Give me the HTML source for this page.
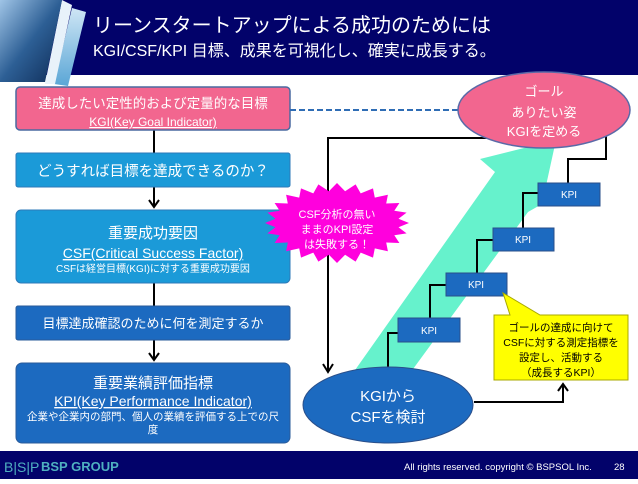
<!DOCTYPE html>
<html><head><meta charset="utf-8"><style>
body{margin:0;width:638px;height:479px;overflow:hidden;background:#fff}
svg text{font-family:"Liberation Sans","Noto Sans CJK JP",sans-serif}
</style></head><body>
<svg width="638" height="479" viewBox="0 0 638 479" xmlns="http://www.w3.org/2000/svg">
<defs>
<linearGradient id="bld" x1="0" y1="0" x2="1" y2="1"><stop offset="0" stop-color="#9fc4e6"/><stop offset="0.5" stop-color="#2d5f95"/><stop offset="1" stop-color="#0d2a55"/></linearGradient>
<linearGradient id="bld2" x1="0" y1="0" x2="0" y2="1"><stop offset="0" stop-color="#cfe6f5"/><stop offset="1" stop-color="#5aa6d6"/></linearGradient>
</defs>
<!-- header -->
<rect x="0" y="0" width="638" height="75" fill="#02026a"/>
<polygon points="72,8 86,12 68,86 54,84" fill="url(#bld2)"/>
<polygon points="62,0 72,5 55,84 45,84" fill="#e8f2fa"/>
<polygon points="0,0 62,0 45,82 0,82" fill="url(#bld)"/>
<text x="93" y="32" font-size="20" fill="#fff">リーンスタートアップによる成功のためには</text>
<text x="93" y="56" font-size="16" fill="#fff">KGI/CSF/KPI  目標、成果を可視化し、確実に成長する。</text>
<!-- left column -->
<line x1="154" y1="130" x2="154" y2="153" stroke="#000" stroke-width="2"/>
<line x1="154" y1="187" x2="154" y2="206" stroke="#000" stroke-width="2"/>
<polyline points="149,200 154,207 159,200" fill="none" stroke="#000" stroke-width="2"/>
<line x1="154" y1="283" x2="154" y2="306" stroke="#000" stroke-width="2"/>
<line x1="154" y1="340" x2="154" y2="359" stroke="#000" stroke-width="2"/>
<polyline points="149,353 154,360 159,353" fill="none" stroke="#000" stroke-width="2"/>
<rect x="16" y="87" width="274" height="43" rx="4" fill="#f2668f" stroke="#4a6aa0" stroke-width="1.5"/>
<text x="153" y="108" font-size="13.5" fill="#fff" text-anchor="middle">達成したい定性的および定量的な目標</text>
<text x="153" y="126" font-size="12" fill="#fff" text-anchor="middle" text-decoration="underline">KGI(Key Goal Indicator)</text>
<rect x="16" y="153" width="274" height="34" rx="2" fill="#1b9ad8" stroke="#2d79b8"/>
<text x="153" y="176" font-size="14.5" fill="#fff" text-anchor="middle">どうすれば目標を達成できるのか？</text>
<rect x="16" y="210" width="274" height="73" rx="5" fill="#1b9ad8" stroke="#2d79b8"/>
<text x="153" y="238" font-size="15" fill="#fff" text-anchor="middle">重要成功要因</text>
<text x="153" y="258" font-size="14" fill="#fff" text-anchor="middle" text-decoration="underline">CSF(Critical Success Factor)</text>
<text x="153" y="272" font-size="10" fill="#fff" text-anchor="middle">CSFは経営目標(KGI)に対する重要成功要因</text>
<rect x="16" y="306" width="274" height="34" rx="2" fill="#1c6ac0" stroke="#2a5b9a"/>
<text x="153" y="328" font-size="13" fill="#fff" text-anchor="middle">目標達成確認のために何を測定するか</text>
<rect x="16" y="363" width="274" height="80" rx="6" fill="#1c6ac0" stroke="#2a5b9a"/>
<text x="153" y="388" font-size="15" fill="#fff" text-anchor="middle">重要業績評価指標</text>
<text x="153" y="406" font-size="14" fill="#fff" text-anchor="middle" text-decoration="underline">KPI(Key Performance Indicator)</text>
<text x="153" y="420" font-size="10.5" fill="#fff" text-anchor="middle">企業や企業内の部門、個人の業績を評価する上での尺</text>
<text x="153" y="433" font-size="10.5" fill="#fff" text-anchor="middle">度</text>
<!-- dashed -->
<line x1="290" y1="110" x2="460" y2="110" stroke="#2f6db5" stroke-width="2" stroke-dasharray="6,3"/>
<!-- big arrow -->
<polygon points="348,380 495,172 480,159 556,140 542,204 528,212 405,380" fill="#66f2cc"/>
<!-- black loop -->
<polyline points="490,138 328,138 328,370" fill="none" stroke="#000" stroke-width="2"/>
<polyline points="323,364 328,372 333,364" fill="none" stroke="#000" stroke-width="2"/>
<polyline points="606,135 606,159 568,159 568,183" fill="none" stroke="#000" stroke-width="2"/>
<polyline points="538,193 523,193 523,228" fill="none" stroke="#000" stroke-width="2"/>
<polyline points="493,240 477,240 477,273" fill="none" stroke="#000" stroke-width="2"/>
<polyline points="446,285 430,285 430,318" fill="none" stroke="#000" stroke-width="2"/>
<polyline points="398,333 388,333 388,368" fill="none" stroke="#000" stroke-width="2"/>
<polyline points="474,402 563,402 563,385" fill="none" stroke="#000" stroke-width="2"/>
<polyline points="558,391 563,384 568,391" fill="none" stroke="#000" stroke-width="2"/>
<!-- goal ellipse -->
<ellipse cx="544" cy="110" rx="86" ry="38" fill="#f2668f" stroke="#5a6aa8" stroke-width="1.5"/>
<text x="544" y="96" font-size="13" fill="#fff" text-anchor="middle">ゴール</text>
<text x="544" y="117" font-size="13" fill="#fff" text-anchor="middle">ありたい姿</text>
<text x="544" y="136" font-size="13" fill="#fff" text-anchor="middle">KGIを定める</text>
<!-- KPI boxes -->
<g fill="#1c6ac0" stroke="#2a4f8a">
<rect x="538" y="183" width="62" height="23"/>
<rect x="493" y="228" width="61" height="23"/>
<rect x="446" y="273" width="61" height="23"/>
<rect x="398" y="318" width="62" height="24"/>
</g>
<g font-size="10" fill="#fff" text-anchor="middle">
<text x="569" y="198">KPI</text><text x="523" y="243">KPI</text><text x="476" y="288">KPI</text><text x="429" y="334">KPI</text>
</g>
<!-- starburst -->
<polygon fill="#ff00dd" points="409,223 398.5,227.2 406.6,233.4 394.3,235.3 399.4,243 386.2,242.5 387.9,251.3 374.8,248.4 373,257.6 360.7,252.6 355.6,261.6 345.1,254.7 337,263 328.9,254.7 318.4,261.6 313.3,252.6 301,257.6 299.2,248.4 286.1,251.3 287.8,242.5 274.6,243 279.7,235.3 267.4,233.4 275.5,227.2 265,223 275.5,218.8 267.4,212.6 279.7,210.7 274.6,203 287.8,203.5 286.1,194.7 299.2,197.6 301,188.4 313.3,193.4 318.4,184.4 328.9,191.3 337,183 345.1,191.3 355.6,184.4 360.7,193.4 373,188.4 374.8,197.6 387.9,194.7 386.2,203.5 399.4,203 394.3,210.7 406.6,212.6 398.5,218.8"/>
<text x="337" y="218" font-size="11" fill="#fff" text-anchor="middle">CSF分析の無い</text>
<text x="337" y="233" font-size="11" fill="#fff" text-anchor="middle">ままのKPI設定</text>
<text x="337" y="248" font-size="11" fill="#fff" text-anchor="middle">は失敗する！</text>
<!-- yellow callout -->
<polygon points="494,315 510,315 503,293 540,315 628,315 628,380 494,380" fill="#ffff00" stroke="#a8a800"/>
<g font-size="10.5" fill="#000" text-anchor="middle">
<text x="561" y="331">ゴールの達成に向けて</text>
<text x="561" y="346">CSFに対する測定指標を</text>
<text x="561" y="361">設定し、活動する</text>
<text x="561" y="376">（成長するKPI）</text>
</g>
<!-- bottom ellipse -->
<ellipse cx="388" cy="405" rx="85" ry="38" fill="#1c6ac0" stroke="#2a4f8a"/>
<text x="388" y="401" font-size="15" fill="#fff" text-anchor="middle">KGIから</text>
<text x="388" y="422" font-size="15" fill="#fff" text-anchor="middle">CSFを検討</text>
<!-- footer -->
<rect x="0" y="451" width="638" height="28" fill="#02026a"/>
<text x="4" y="472" font-size="14" fill="#4fb0c0" font-family="Liberation Serif">B|S|P</text>
<text x="41" y="471" font-size="13" font-weight="bold" fill="#4fb0c0">BSP GROUP</text>
<text x="404" y="470" font-size="9.5" fill="#fff">All rights reserved. copyright © BSPSOL Inc.</text>
<text x="614" y="470" font-size="9.5" fill="#fff">28</text>
</svg>
</body></html>
